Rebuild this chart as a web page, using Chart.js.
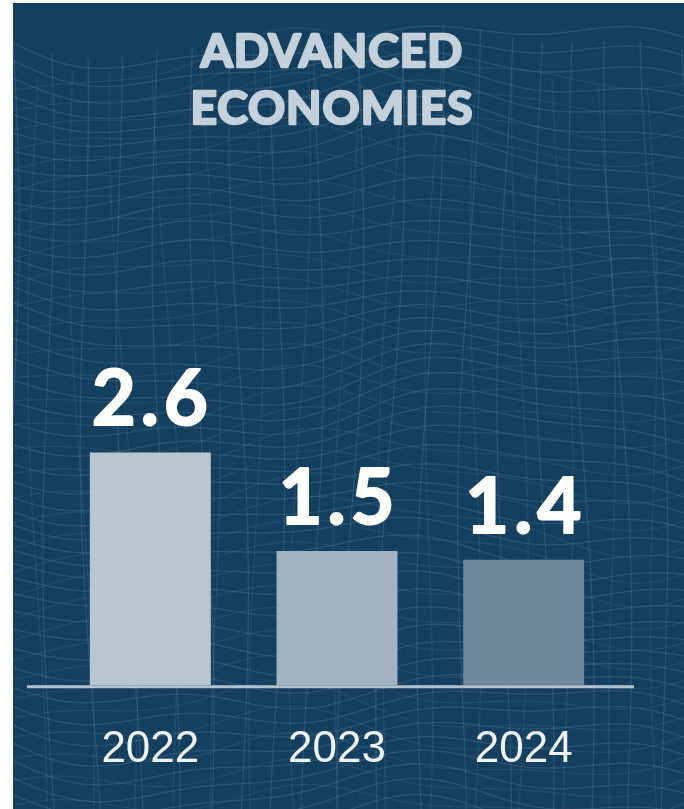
<!DOCTYPE html>
<html>
<head>
<meta charset="utf-8">
<script src="https://cdn.jsdelivr.net/npm/chart.js@4.4.1/dist/chart.umd.min.js"></script>
<style>
  html, body { margin: 0; padding: 0; background: #ffffff; }
  #panel { position: absolute; left: 13px; top: 3px; width: 671px; height: 806px; }
</style>
</head>
<body>
<div id="panel"><canvas id="chart"></canvas></div>
<script>
// Real GDP growth, advanced economies (percent)
const titleLines = ['ADVANCED', 'ECONOMIES'];
const years = ['2022', '2023', '2024'];
const growth = [2.6, 1.5, 1.4];
const barColors = ['#b8c6d0', '#a1b3c0', '#6d879a'];

// Dark panel with a faint wireframe terrain behind the chart
const meshBackground = {
  id: 'meshBackground',
  beforeDraw(chart) {
    const ctx = chart.ctx;
    const w = chart.width, h = chart.height;
    ctx.save();
    ctx.fillStyle = '#153f5f';
    ctx.fillRect(0, 0, w, h);

    const layers = [
      { top: 40, amp: 12, colStep: 38, rowStep: 17, phase: 0.0, alpha: 0.17, shift: 0 },
      { top: 62, amp: 18, colStep: 44, rowStep: 23, phase: 1.7, alpha: 0.10, shift: 19 }
    ];
    layers.forEach(L => {
      const horizon = x => L.top + L.amp * Math.sin(x / 95 + L.phase) + 7 * Math.sin(x / 37 + L.phase * 2);
      ctx.strokeStyle = 'rgba(140,185,215,' + L.alpha + ')';
      ctx.lineWidth = 1.3;
      // rows
      for (let k = 0; k < 48; k++) {
        ctx.beginPath();
        for (let x = -10; x <= w + 10; x += 6) {
          const y = horizon(x) + k * L.rowStep
            + 9 * Math.sin(x / 120 + k * 0.31 + L.phase)
            + 5 * Math.sin(x / 57 - k * 0.45);
          if (x === -10) ctx.moveTo(x, y); else ctx.lineTo(x, y);
        }
        ctx.stroke();
      }
      // columns
      for (let x0 = -40 + L.shift; x0 < w + 40; x0 += L.colStep) {
        ctx.beginPath();
        let first = true;
        for (let y = horizon(x0); y <= h + 10; y += 6) {
          const x = x0 + 8 * Math.sin(y / 140 + x0 / 60 + L.phase) + (y - 400) * 0.025 * Math.sin(x0 / 80);
          if (first) { ctx.moveTo(x, y); first = false; } else ctx.lineTo(x, y);
        }
        ctx.stroke();
      }
    });
    ctx.restore();
  }
};

// Heavy two-line heading above the plot
const heading = {
  id: 'heading',
  afterDraw(chart) {
    const ctx = chart.ctx;
    const area = chart.chartArea;
    const cx = (area.left + area.right) / 2 - 5;
    ctx.save();
    ctx.fillStyle = '#c4d0da';
    ctx.strokeStyle = '#c4d0da';
    ctx.lineWidth = 2.6;
    ctx.lineJoin = 'round';
    ctx.font = 'bold 46px Lato, "Open Sans", sans-serif';
    ctx.textAlign = 'center';
    ctx.textBaseline = 'alphabetic';
    ctx.letterSpacing = '1px';
    titleLines.forEach((line, i) => {
      const y = 64 + i * 57;
      ctx.fillText(line, cx, y);
      ctx.strokeText(line, cx, y);
    });
    ctx.restore();
  }
};

// Axis line under the bars and value labels above them
const baselineAndValues = {
  id: 'baselineAndValues',
  afterDatasetsDraw(chart) {
    const ctx = chart.ctx;
    const area = chart.chartArea;
    const y0 = chart.scales.y.getPixelForValue(0);
    ctx.save();
    ctx.strokeStyle = '#b3c3ce';
    ctx.lineWidth = 3;
    ctx.beginPath();
    ctx.moveTo(area.left - 30, y0 + 1.5);
    ctx.lineTo(area.right + 17, y0 + 1.5);
    ctx.stroke();

    ctx.fillStyle = '#ffffff';
    ctx.strokeStyle = '#ffffff';
    ctx.lineWidth = 2;
    ctx.lineJoin = 'round';
    ctx.font = 'bold 76px Lato, "Open Sans", sans-serif';
    ctx.textAlign = 'center';
    ctx.textBaseline = 'alphabetic';
    ctx.letterSpacing = '5px';
    chart.getDatasetMeta(0).data.forEach((bar, i) => {
      const t = growth[i].toFixed(1);
      ctx.fillText(t, bar.x + 2, bar.y - 27);
      ctx.strokeText(t, bar.x + 2, bar.y - 27);
    });
    ctx.restore();
  }
};

new Chart(document.getElementById('chart'), {
  type: 'bar',
  data: {
    labels: years,
    datasets: [{
      data: growth,
      backgroundColor: barColors,
      borderWidth: 0,
      categoryPercentage: 1,
      barPercentage: 0.648
    }]
  },
  options: {
    responsive: true,
    maintainAspectRatio: false,
    animation: false,
    layout: { padding: { left: 44, right: 67, top: 145, bottom: 3 } },
    plugins: {
      legend: { display: false },
      tooltip: { enabled: false },
      title: { display: false }
    },
    scales: {
      x: {
        grid: { display: false },
        border: { display: false },
        ticks: {
          color: '#eef2f5',
          padding: 30,
          font: { family: '"Liberation Sans", Arial, sans-serif', size: 44 }
        }
      },
      y: { display: false, min: 0, max: 6 }
    }
  },
  plugins: [meshBackground, baselineAndValues, heading]
});
</script>
</body>
</html>
